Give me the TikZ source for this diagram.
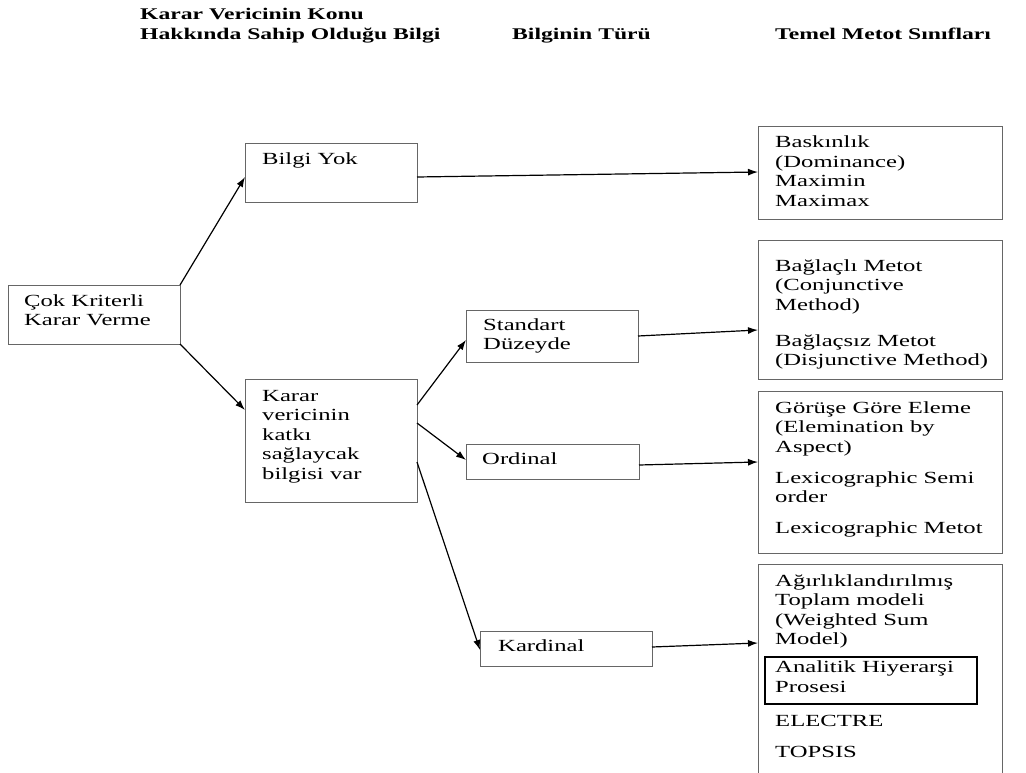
\documentclass[tikz,border=0pt]{standalone}
\usepackage{fontspec}
\setmainfont{Liberation Serif}[FakeStretch=1.45]
\usetikzlibrary{arrows.meta}
\begin{document}
\begin{tikzpicture}[x=1pt,y=-1pt,
  box/.style={draw=black!60,line width=0.9pt,inner sep=0pt,outer sep=0pt,anchor=north west},
  hl/.style={draw=black,line width=1.8pt,inner sep=0pt,outer sep=0pt,anchor=north west},
  txt/.style={inner sep=0pt,anchor=base west,font=\fontsize{17}{19.5}\selectfont},
  head/.style={inner sep=0pt,anchor=base west,font=\bfseries\fontsize{16.3}{20}\selectfont},
  arr/.style={line width=1.2pt,-{Latex[length=10pt,width=7pt]}}]
\useasboundingbox (0,0) rectangle (1026,773);
\clip (0,0) rectangle (1026,773);
\fill[white] (0,0) rectangle (1026,773);

% column headings
\node[head] (h1) at (140,20) {\parbox[t]{330pt}{Karar Vericinin Konu\\Hakkında Sahip Olduğu Bilgi}};
\node[head] (h2) at (512,40) {Bilginin Türü};
\node[head] (h3) at (775,40) {Temel Metot Sınıfları};

% boxes
\node[box,minimum width=172pt,minimum height=59pt]  (cok)   at (8,285)   {};
\node[box,minimum width=172pt,minimum height=59pt]  (bilgi) at (245,143)  {};
\node[box,minimum width=172pt,minimum height=123pt] (karar) at (245,379)  {};
\node[box,minimum width=172pt,minimum height=52pt]  (std)   at (466,310)  {};
\node[box,minimum width=173pt,minimum height=35pt]  (ord)   at (466,444)  {};
\node[box,minimum width=172pt,minimum height=35pt]  (kard)  at (480,631)  {};
\node[box,minimum width=244pt,minimum height=93pt]  (m1)    at (758,126)  {};
\node[box,minimum width=244pt,minimum height=139pt] (m2)    at (758,240)  {};
\node[box,minimum width=244pt,minimum height=162pt] (m3)    at (758,391)  {};
\node[box,minimum width=244pt,minimum height=230pt] (m4)    at (758,564)  {};
\node[hl,minimum width=212pt,minimum height=47pt]   (ahp)   at (765,657)  {};

% box texts
\node[txt] (tcok)   at (24,306)  {\parbox[t]{160pt}{Çok Kriterli\\Karar Verme}};
\node[txt] (tbilgi) at (262,165) {Bilgi Yok};
\node[txt] (tkarar) at (262,401) {\parbox[t]{150pt}{Karar\\vericinin\\katkı\\sağlaycak\\bilgisi var}};
\node[txt] (tstd)   at (483,330) {\parbox[t]{150pt}{Standart\\Düzeyde}};
\node[txt] (tord)   at (482,464) {Ordinal};
\node[txt] (tkard)  at (498,651) {Kardinal};
\node[txt] (tm1)    at (775,148) {\parbox[t]{240pt}{Baskınlık\\(Dominance)\\Maximin\\Maximax}};
\node[txt] (tm2)    at (775,271) {\parbox[t]{240pt}{Bağlaçlı Metot\\(Conjunctive\\Method)\\[16.5pt]Bağlaçsız Metot\\(Disjunctive Method)}};
\node[txt] (tm3)    at (775,413) {\parbox[t]{240pt}{Görüşe Göre Eleme\\(Elemination by\\Aspect)\\[11.5pt]Lexicographic Semi\\order\\[11.5pt]Lexicographic Metot}};
\node[txt] (tm4)    at (775,586) {\parbox[t]{240pt}{Ağırlıklandırılmış\\Toplam modeli\\(Weighted Sum\\Model)\\[8.5pt]Analitik Hiyerarşi\\Prosesi\\[14.5pt]ELECTRE\\[11.5pt]TOPSIS}};

% connectors
\draw[arr] (cok.north east) -- ([yshift=-34pt]bilgi.north west);
\draw[arr] (cok.south east) -- ([yshift=-31pt]karar.north west);
\draw[arr] ([yshift=-34pt]bilgi.north east) -- ([yshift=-46pt]m1.north west);
\draw[arr] ([yshift=-26pt]karar.north east) -- ([yshift=-30pt]std.north west);
\draw[arr] ([yshift=-44pt]karar.north east) -- ([yshift=-16pt]ord.north west);
\draw[arr] ([yshift=-83pt]karar.north east) -- ([yshift=-19pt]kard.north west);
\draw[arr] ([yshift=-26pt]std.north east) -- ([yshift=-90pt]m2.north west);
\draw[arr] ([yshift=-21pt]ord.north east) -- ([yshift=-71pt]m3.north west);
\draw[arr] ([yshift=-16pt]kard.north east) -- ([yshift=-79pt]m4.north west);
\end{tikzpicture}
\end{document}
